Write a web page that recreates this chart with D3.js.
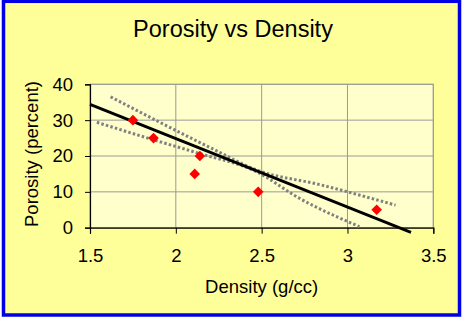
<!DOCTYPE html>
<html>
<head>
<meta charset="utf-8">
<script src="https://cdn.jsdelivr.net/npm/d3@7"></script>
<style>
  body { margin: 0; background: #fff; }
  svg { display: block; font-family: "Liberation Sans", Arial, sans-serif; }
</style>
</head>
<body>
<svg id="chart" width="465" height="323"></svg>
<script>
// measured samples
const density = [1.75, 1.87, 2.11, 2.14, 2.48, 3.17];
const porosity = [30, 25, 15, 20, 10, 5];

// trend line and dotted bands
const fitX = [1.5, 3.37];
const fitY = [34.4, -1.3];
const upperX = [1.62, 2.21, 2.47, 2.84, 3.28];
const upperY = [36.5, 22.1, 16.1, 12.0, 6.3];
const lowerX = [1.54, 1.85, 2.13, 2.47, 2.72, 3.07];
const lowerY = [29.4, 24.8, 20.8, 15.6, 8.2, 0.3];

const xTicks = [1.5, 2, 2.5, 3, 3.5];
const yTicks = [0, 10, 20, 30, 40];

const svg = d3.select('#chart');
const margin = { top: 84.3, left: 90, right: 31.7, bottom: 95.3 };
const width = 465 - margin.left - margin.right;
const height = 323 - margin.top - margin.bottom;

// outer frame
svg.append('rect')
    .attr('x', 3.5).attr('y', 1.3)
    .attr('width', 456).attr('height', 313.7)
    .attr('fill', '#ffff99')
    .attr('stroke', '#0000e6')
    .attr('stroke-width', 3.5);

svg.append('text')
    .attr('x', 233)
    .attr('y', 37)
    .attr('text-anchor', 'middle')
    .attr('font-size', 23.5)
    .text('Porosity vs Density');

const x = d3.scaleLinear().domain([1.5, 3.5]).range([0, width]);
const y = d3.scaleLinear().domain([0, 40]).range([height, 0]);

const g = svg.append('g')
    .attr('transform', `translate(${margin.left}, ${margin.top})`);

g.append('rect')
    .attr('width', width).attr('height', height)
    .attr('fill', '#ffffcc')
    .attr('stroke', '#9a9a9a');

// gridlines
g.selectAll('.vgrid')
    .data(xTicks.slice(1))
    .enter().append('line')
    .attr('x1', (d) => x(d)).attr('x2', (d) => x(d))
    .attr('y1', 0).attr('y2', height)
    .attr('stroke', '#9a9a9a');

g.selectAll('.hgrid')
    .data(yTicks.slice(1))
    .enter().append('line')
    .attr('x1', 0).attr('x2', width)
    .attr('y1', (d) => y(d)).attr('y2', (d) => y(d))
    .attr('stroke', '#9a9a9a');

const xAxis = g.append('g')
    .attr('transform', `translate(0, ${height})`)
    .call(d3.axisBottom(x).tickValues(xTicks).tickSize(6).tickPadding(15).tickFormat(d3.format('')));

const yAxis = g.append('g')
    .call(d3.axisLeft(y).tickValues(yTicks).tickSize(5).tickPadding(12));

[xAxis, yAxis].forEach((a) => {
    a.select('.domain').attr('stroke', '#000').attr('stroke-width', 1.2);
    a.selectAll('.tick line').attr('stroke', '#000');
    a.selectAll('.tick text')
        .attr('font-family', '"Liberation Sans", Arial, sans-serif')
        .attr('font-size', 18.5)
        .attr('fill', '#000');
});

// bands
const line = d3.line().x((d) => x(d[0])).y((d) => y(d[1]));
const curve = d3.line().x((d) => x(d[0])).y((d) => y(d[1])).curve(d3.curveMonotoneX);

[[upperX, upperY], [lowerX, lowerY]].forEach(([bx, by]) => {
    g.append('path')
        .datum(d3.zip(bx, by))
        .attr('d', curve)
        .attr('fill', 'none')
        .attr('stroke', '#808080')
        .attr('stroke-width', 3)
        .attr('stroke-dasharray', '2.5,2.2');
});

g.append('path')
    .datum(d3.zip(fitX, fitY))
    .attr('d', line)
    .attr('fill', 'none')
    .attr('stroke', '#000')
    .attr('stroke-width', 2.8);

g.selectAll('.pt')
    .data(d3.zip(density, porosity))
    .enter().append('path')
    .attr('d', d3.symbol().type(d3.symbolDiamond2).size(72))
    .attr('transform', (d) => `translate(${x(d[0])}, ${y(d[1])})`)
    .attr('fill', '#ff0000');

svg.append('text')
    .attr('x', margin.left + width / 2)
    .attr('y', 292.5)
    .attr('text-anchor', 'middle')
    .attr('font-size', 18.5)
    .text('Density (g/cc)');

svg.append('text')
    .attr('transform', 'translate(38, 154) rotate(-90)')
    .attr('text-anchor', 'middle')
    .attr('font-size', 18.5)
    .text('Porosity (percent)');
</script>
</body>
</html>
